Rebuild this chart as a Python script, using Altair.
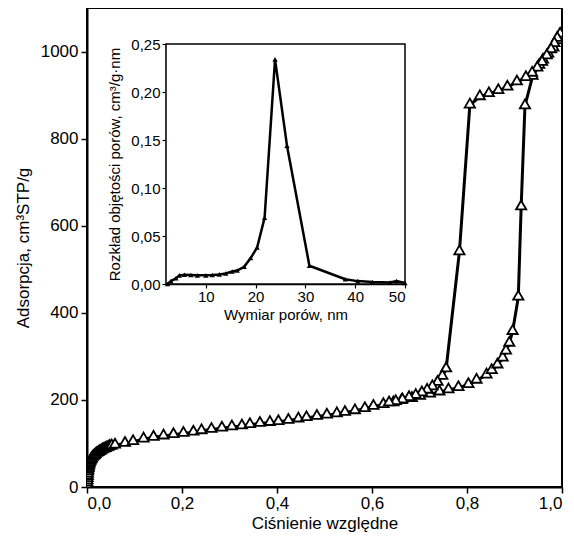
import altair as alt
import pandas as pd

# Adsorption branch (relative pressure, cm3 STP/g)
ads_p = [0.0003, 0.0006, 0.0009, 0.0012, 0.0015, 0.0018, 0.0022, 0.0026, 0.003, 0.0035,
         0.004, 0.0045, 0.005, 0.006, 0.007, 0.008, 0.009, 0.010,
         0.012, 0.014, 0.016, 0.018, 0.021, 0.024, 0.027, 0.030, 0.033, 0.036, 0.039,
         0.042, 0.045, 0.048, 0.052,
         0.059, 0.080, 0.097, 0.119, 0.140, 0.161, 0.182, 0.203, 0.224, 0.241,
         0.262, 0.284, 0.305, 0.326, 0.343, 0.364, 0.385, 0.403, 0.424, 0.445,
         0.462, 0.484, 0.505, 0.526, 0.543, 0.564, 0.585, 0.603, 0.624, 0.645,
         0.662, 0.684, 0.701, 0.722, 0.742, 0.761, 0.782, 0.803, 0.820, 0.841,
         0.852, 0.864, 0.875, 0.882, 0.889, 0.896, 0.908, 0.914, 0.922, 0.938,
         0.952, 0.960, 0.971, 0.982, 0.992, 0.997]
ads_v = [4, 9, 14, 19, 24, 29, 34, 38, 42, 45,
         48, 51, 53, 56, 59, 61, 63, 65,
         68, 70, 72, 74, 77, 79, 81, 83, 85, 87, 88,
         90, 91, 93, 94,
         96, 100, 104, 110, 114, 117, 120, 123, 126, 129,
         132, 135, 138, 140, 143, 146, 148, 150, 153, 156,
         159, 162, 165, 168, 171, 175, 180, 185, 189, 193,
         198, 203, 208, 213, 218, 223, 228, 235, 245, 257,
         267, 280, 296, 312, 330, 357, 436, 643, 875, 943,
         968, 980, 994, 1008, 1025, 1035]

# Desorption branch
des_p = [0.996, 0.990, 0.984, 0.977, 0.968, 0.958, 0.948, 0.937, 0.924, 0.905,
         0.885, 0.866, 0.846, 0.827, 0.806, 0.784, 0.756, 0.748, 0.738, 0.727,
         0.716, 0.705, 0.692, 0.678, 0.664, 0.650, 0.636]
des_v = [1040, 1030, 1018, 1004, 990, 975, 962, 950, 940, 930,
         918, 910, 903, 896, 877, 540, 271, 254, 240, 230,
         222, 216, 210, 205, 200, 196, 193]

# Pore size distribution (inset)
psd_d = [2.3, 3.0, 4.0, 4.7, 5.7, 7.0, 8.3, 10.0, 11.3, 12.7, 14.0, 15.3, 16.3,
         17.7, 19.0, 20.3, 21.8, 23.9, 26.3, 30.8, 38.0, 40.5, 43.5, 47.0, 48.3, 50.0]
psd_v = [0.000, 0.003, 0.006, 0.009, 0.0096, 0.0093, 0.009, 0.009, 0.0093, 0.010,
         0.011, 0.013, 0.014, 0.018, 0.027, 0.038, 0.069, 0.234, 0.144, 0.019,
         0.005, 0.003, 0.002, 0.0015, 0.003, 0.001]

x_ticks = [0.0, 0.2, 0.4, 0.6, 0.8, 1.0]
y_ticks = [0, 200, 400, 600, 800, 1000]
ix_ticks = [10, 20, 30, 40, 50]
iy_ticks = [0.0, 0.05, 0.10, 0.15, 0.20, 0.25]

rows = []
for i, (p, v) in enumerate(zip(ads_p, ads_v)):
    rows.append({"p": p, "v": v, "branch": "ads", "i": i})
for i, (p, v) in enumerate(zip(des_p, des_v)):
    rows.append({"p": p, "v": v, "branch": "des", "i": i})
iso = pd.DataFrame(rows)
psd = pd.DataFrame({"d": psd_d, "v": psd_v, "i": list(range(len(psd_d)))})
frame = pd.DataFrame({"x": [2], "x2": [50], "y": [0.0], "y2": [0.25]})

FONT = "Liberation Sans"
comma1 = "replace(format(datum.value, '.1f'), '.', ',')"
comma2 = "replace(format(datum.value, '.2f'), '.', ',')"

main_x_axis = alt.Axis(orient="bottom", values=x_ticks, labelExpr=comma1,
                       title="Ciśnienie względne", labelFontSize=17, titleFontSize=17,
                       tickSize=6, tickWidth=1.5, domainWidth=2, labelPadding=2,
                       titlePadding=4, grid=False)
main_y_axis = alt.Axis(orient="left", values=y_ticks, format="d",
                       title="Adsorpcja, cm³STP/g", labelFontSize=17, titleFontSize=17,
                       tickSize=6, tickWidth=1.5, domainWidth=2, labelPadding=3,
                       titlePadding=8, grid=False)

xm = alt.X("p:Q", scale=alt.Scale(domain=[0, 1], nice=False, zero=False), axis=main_x_axis)
ym = alt.Y("v:Q", scale=alt.Scale(domain=[0, 1100], nice=False), axis=main_y_axis)

main_line = alt.Chart(iso).mark_line(color="black", strokeWidth=3, clip=True).encode(
    x=xm, y=ym, detail="branch:N", order="i:Q")
main_pts = alt.Chart(iso).mark_point(shape="triangle-up", size=105, filled=True,
                                     fill="white", stroke="black", strokeWidth=1.8,
                                     opacity=1, clip=True, yOffset=-2).encode(x=xm, y=ym)
main = alt.layer(main_line, main_pts)

inset_x_axis = alt.Axis(orient="bottom", offset=-203, values=ix_ticks, format="d",
                        title="Wymiar porów, nm", labelFontSize=15, titleFontSize=15,
                        tickSize=4, tickWidth=1.2, domainWidth=1.5, labelPadding=1,
                        titlePadding=3, grid=False)
inset_y_axis = alt.Axis(orient="left", offset=-79, values=iy_ticks, labelExpr=comma2,
                        title="Rozkład objętości porów, cm³/g·nm", labelFontSize=15,
                        titleFontSize=15, tickSize=4, tickWidth=1.2, domainWidth=1.5,
                        labelPadding=2, titlePadding=8, grid=False)

isx = alt.Scale(domain=[2, 50], range=[79, 318], nice=False, zero=False)
isy = alt.Scale(domain=[0, 0.25], range=[276, 36], nice=False)

inset_frame = alt.Chart(frame).mark_rect(fill="white", stroke="black", strokeWidth=1.5).encode(
    x=alt.X("x:Q", scale=isx, axis=inset_x_axis), x2="x2:Q",
    y=alt.Y("y:Q", scale=isy, axis=inset_y_axis), y2="y2:Q")
inset_line = alt.Chart(psd).mark_line(color="black", strokeWidth=2.5).encode(
    x=alt.X("d:Q", scale=isx, axis=inset_x_axis),
    y=alt.Y("v:Q", scale=isy, axis=inset_y_axis), order="i:Q")
inset_pts = alt.Chart(psd).mark_point(shape="triangle-up", size=28, filled=True,
                                      color="black", opacity=1).encode(
    x=alt.X("d:Q", scale=isx, axis=inset_x_axis),
    y=alt.Y("v:Q", scale=isy, axis=inset_y_axis))
inset = alt.layer(inset_frame, inset_line, inset_pts)

chart = alt.layer(main, inset).resolve_scale(x="independent", y="independent").properties(
    width=475, height=479,
    autosize=alt.AutoSizeParams(type="none"),
    padding={"left": 79, "top": 0, "right": 4, "bottom": 50},
    background="white",
).configure_axis(
    labelFont=FONT, titleFont=FONT, labelColor="black", titleColor="black",
    tickColor="black", domainColor="black", titleFontWeight="normal",
).configure_view(stroke="black", strokeWidth=2)

chart.save("out.html", embed_options={"renderer": "svg", "actions": False})
